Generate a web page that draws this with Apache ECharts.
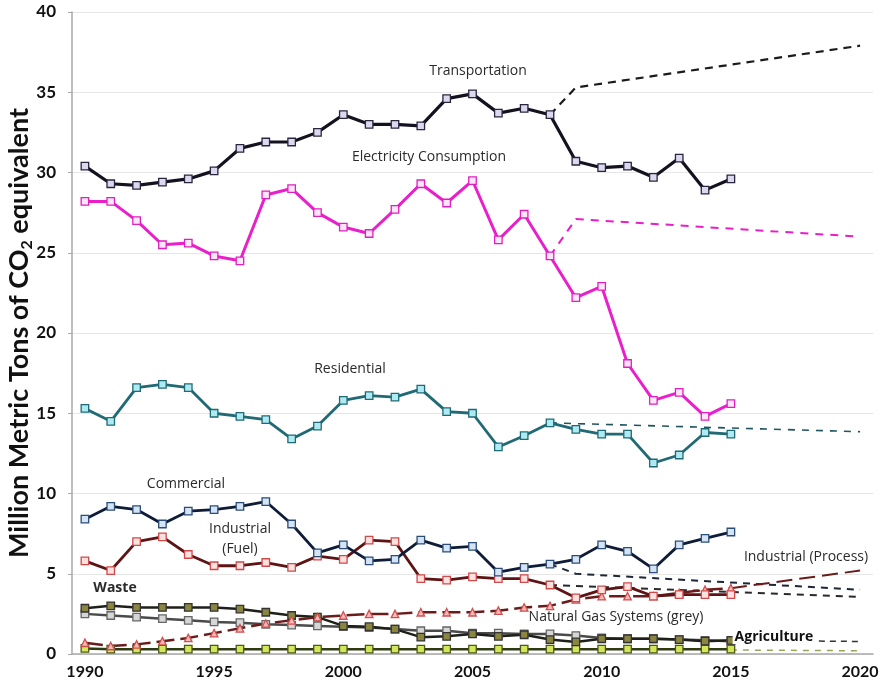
<!DOCTYPE html>
<html>
<head>
<meta charset="utf-8">
<script src="https://cdn.jsdelivr.net/npm/echarts@6/dist/echarts.min.js"></script>
<style>
html,body{margin:0;padding:0;background:#fff;}
#chart{width:880px;height:687px;}
</style>
</head>
<body>
<div id="chart"></div>
<script>
// ---- categories ----
const years = [];
for (let y = 1990; y <= 2020; y++) years.push(String(y));
const yTicks = [0, 5, 10, 15, 20, 25, 30, 35, 40];

// ---- historical series, 1990..2015 ----
const transportation = [30.4,29.3,29.2,29.4,29.6,30.1,31.5,31.9,31.9,32.5,33.6,33.0,33.0,32.9,34.6,34.9,33.7,34.0,33.6,30.7,30.3,30.4,29.7,30.9,28.9,29.6];
const electricity    = [28.2,28.2,27.0,25.5,25.6,24.8,24.5,28.6,29.0,27.5,26.6,26.2,27.7,29.3,28.1,29.5,25.8,27.4,24.8,22.2,22.9,18.1,15.8,16.3,14.8,15.6];
const residential    = [15.3,14.5,16.6,16.8,16.6,15.0,14.8,14.6,13.4,14.2,15.8,16.1,16.0,16.5,15.1,15.0,12.9,13.6,14.4,14.0,13.7,13.7,11.9,12.4,13.8,13.7];
const commercial     = [8.4,9.2,9.0,8.1,8.9,9.0,9.2,9.5,8.1,6.3,6.8,5.8,5.9,7.1,6.6,6.7,5.1,5.4,5.6,5.9,6.8,6.4,5.3,6.8,7.2,7.6];
const industrialFuel = [5.8,5.2,7.0,7.3,6.2,5.5,5.5,5.7,5.4,6.1,5.9,7.1,7.0,4.7,4.6,4.8,4.7,4.7,4.3,3.5,4.0,4.2,3.6,3.7,3.7,3.7];
const industrialProc = [0.7,0.5,0.6,0.8,1.0,1.3,1.6,1.9,2.1,2.3,2.4,2.5,2.5,2.6,2.6,2.6,2.7,2.9,3.0,3.4,3.6,3.6,3.6,3.8,4.0,4.1];
const waste          = [2.85,3.0,2.9,2.9,2.9,2.9,2.8,2.6,2.4,2.3,1.75,1.7,1.55,1.05,1.1,1.25,1.1,1.2,0.9,0.75,0.95,0.95,0.95,0.9,0.8,0.85];
const naturalGas     = [2.5,2.4,2.3,2.2,2.1,2.0,1.95,1.85,1.8,1.75,1.7,1.65,1.55,1.45,1.45,1.3,1.3,1.25,1.25,1.15,1.0,0.95,0.95,0.9,0.85,0.8];
const agriculture    = [0.35,0.3,0.3,0.3,0.3,0.3,0.3,0.3,0.3,0.3,0.3,0.3,0.3,0.3,0.3,0.3,0.3,0.3,0.3,0.3,0.3,0.3,0.3,0.3,0.3,0.3];

// ---- projections [year, value] ----
const transProj = [['2008',33.6],['2009',35.3],['2020',37.9]];
const elecProj  = [['2008',24.8],['2009',27.1],['2020',26.0]];
const resProj   = [['2008',14.4],['2020',13.85]];
const commProj  = [['2008',5.6],['2009',5.0],['2020',4.0]];
const fuelProj  = [['2008',4.3],['2020',3.55]];
const procProj  = [['2015',4.1],['2020',5.2]];
const wasteProj = [['2015',0.85],['2020',0.78]];
const agriProj  = [['2015',0.25],['2020',0.2]];

function hist(name, data, line, fill, border, width, symbol, dash) {
  return {
    name, type: 'line', data, symbol: symbol || 'rect', symbolSize: 7.5,
    lineStyle: { color: line, width: width, type: dash || 'solid' },
    itemStyle: { color: fill, borderColor: border, borderWidth: 1.3 },
    emphasis: { disabled: true }, animation: false
  };
}
function proj(name, data, color, width, dash) {
  return {
    name, type: 'line', data, symbol: 'none',
    lineStyle: { color, width, type: dash },
    emphasis: { disabled: true }, animation: false
  };
}

const chart = echarts.init(document.getElementById('chart'));
const labelFont = '"Open Sans", sans-serif';
function txt(text, x, y, bold, size) {
  return { type: 'text', x, y, z: 100, style: {
    text, fill: '#2a2a2a', font: (bold ? 'bold ' : '') + (size || 14) + 'px ' + labelFont,
    align: 'center', verticalAlign: 'middle'
  }};
}

chart.setOption({
  animation: false,
  grid: { left: 72, right: 7, top: 12, bottom: 33, containLabel: false, outerBoundsMode: 'none' },
  xAxis: {
    type: 'category', data: years, boundaryGap: true,
    axisLine: { lineStyle: { color: '#a8a8a8', width: 1.5 } },
    axisTick: { show: false },
    axisLabel: { interval: 4, color: '#111', fontFamily: 'Lato', fontWeight: 'bold', fontSize: 16, margin: 10 },
    splitLine: { show: false }
  },
  yAxis: {
    type: 'value', min: yTicks[0], max: yTicks[yTicks.length - 1], interval: 5,
    axisLine: { show: true, lineStyle: { color: '#a8a8a8', width: 1.5 } },
    axisTick: { show: true, length: 4, lineStyle: { color: '#a8a8a8' } },
    axisLabel: { color: '#111', fontFamily: 'Lato', fontWeight: 'bold', fontSize: 17, margin: 16 },
    splitLine: { lineStyle: { color: '#e6e6e6', width: 1 } },
    name: '{a|Million Metric Tons of CO}{s|2}{a| equivalent}',
    nameLocation: 'middle', nameRotate: 90, nameGap: 37, nameMoveOverlap: false,
    nameTextStyle: {
      rich: {
        a: { fontFamily: 'Lato', fontWeight: 'bold', fontSize: 27, color: '#111', lineHeight: 32 },
        s: { fontFamily: 'Lato', fontWeight: 'bold', fontSize: 16, color: '#111', lineHeight: 32, verticalAlign: 'bottom', padding: [13, 0, 0, 0] }
      }
    }
  },
  series: [
    proj('Agriculture proj', agriProj, '#9aa35a', 1.5, [6, 6]),
    proj('Waste proj', wasteProj, '#333', 1.5, [6, 5]),
    hist('Agriculture', agriculture, '#2f3a12', '#d6e65a', '#4b5a1a', 2.5),
    hist('Natural Gas Systems', naturalGas, '#4a4a4a', '#d6d6d6', '#666', 2.5),
    hist('Waste', waste, '#1f1f1a', '#8a8640', '#333', 2.5),
    proj('Fuel proj', fuelProj, '#2a2a2a', 2, [7, 6]),
    proj('Commercial proj', commProj, '#1d2738', 2, [7, 6]),
    proj('Process proj', procProj, '#6a1c1c', 2, [16, 7]),
    hist('Industrial (Process)', industrialProc, '#6a1c1c', '#f6b8b8', '#d05050', 2.5, 'triangle', [18, 6]),
    hist('Industrial (Fuel)', industrialFuel, '#5e1414', '#fde0e0', '#d04a4a', 2.8),
    hist('Commercial', commercial, '#0f1c38', '#d4e4f4', '#2b4d78', 2.8),
    proj('Residential proj', resProj, '#1e5560', 1.6, [7, 7]),
    hist('Residential', residential, '#1f6a75', '#aeeaf2', '#1f6a75', 2.8),
    proj('Electricity proj', elecProj, '#e81ec8', 2, [8, 7]),
    hist('Electricity Consumption', electricity, '#ea1fcb', '#fde6f8', '#e01fc0', 3),
    proj('Transportation proj', transProj, '#1b1b1b', 2.2, [8, 6]),
    hist('Transportation', transportation, '#15121f', '#dcd8ee', '#2a2640', 3.2)
  ],
  graphic: [
    txt('Transportation', 478, 71),
    txt('Electricity Consumption', 429, 157),
    txt('Residential', 350, 369),
    txt('Commercial', 186, 484),
    txt('Industrial', 240, 529),
    txt('(Fuel)', 240, 549),
    txt('Waste', 115, 588, true),
    txt('Natural Gas Systems (grey)', 616, 617),
    txt('Industrial (Process)', 806, 557),
    { type: 'text', x: 775, y: 637, z: 100, style: {
      text: 'Agriculture', fill: '#111', font: 'bold 14px ' + labelFont,
      align: 'center', verticalAlign: 'middle', backgroundColor: '#fff', padding: [0, 4, 0, 2]
    }}
  ]
});
</script>
</body>
</html>
